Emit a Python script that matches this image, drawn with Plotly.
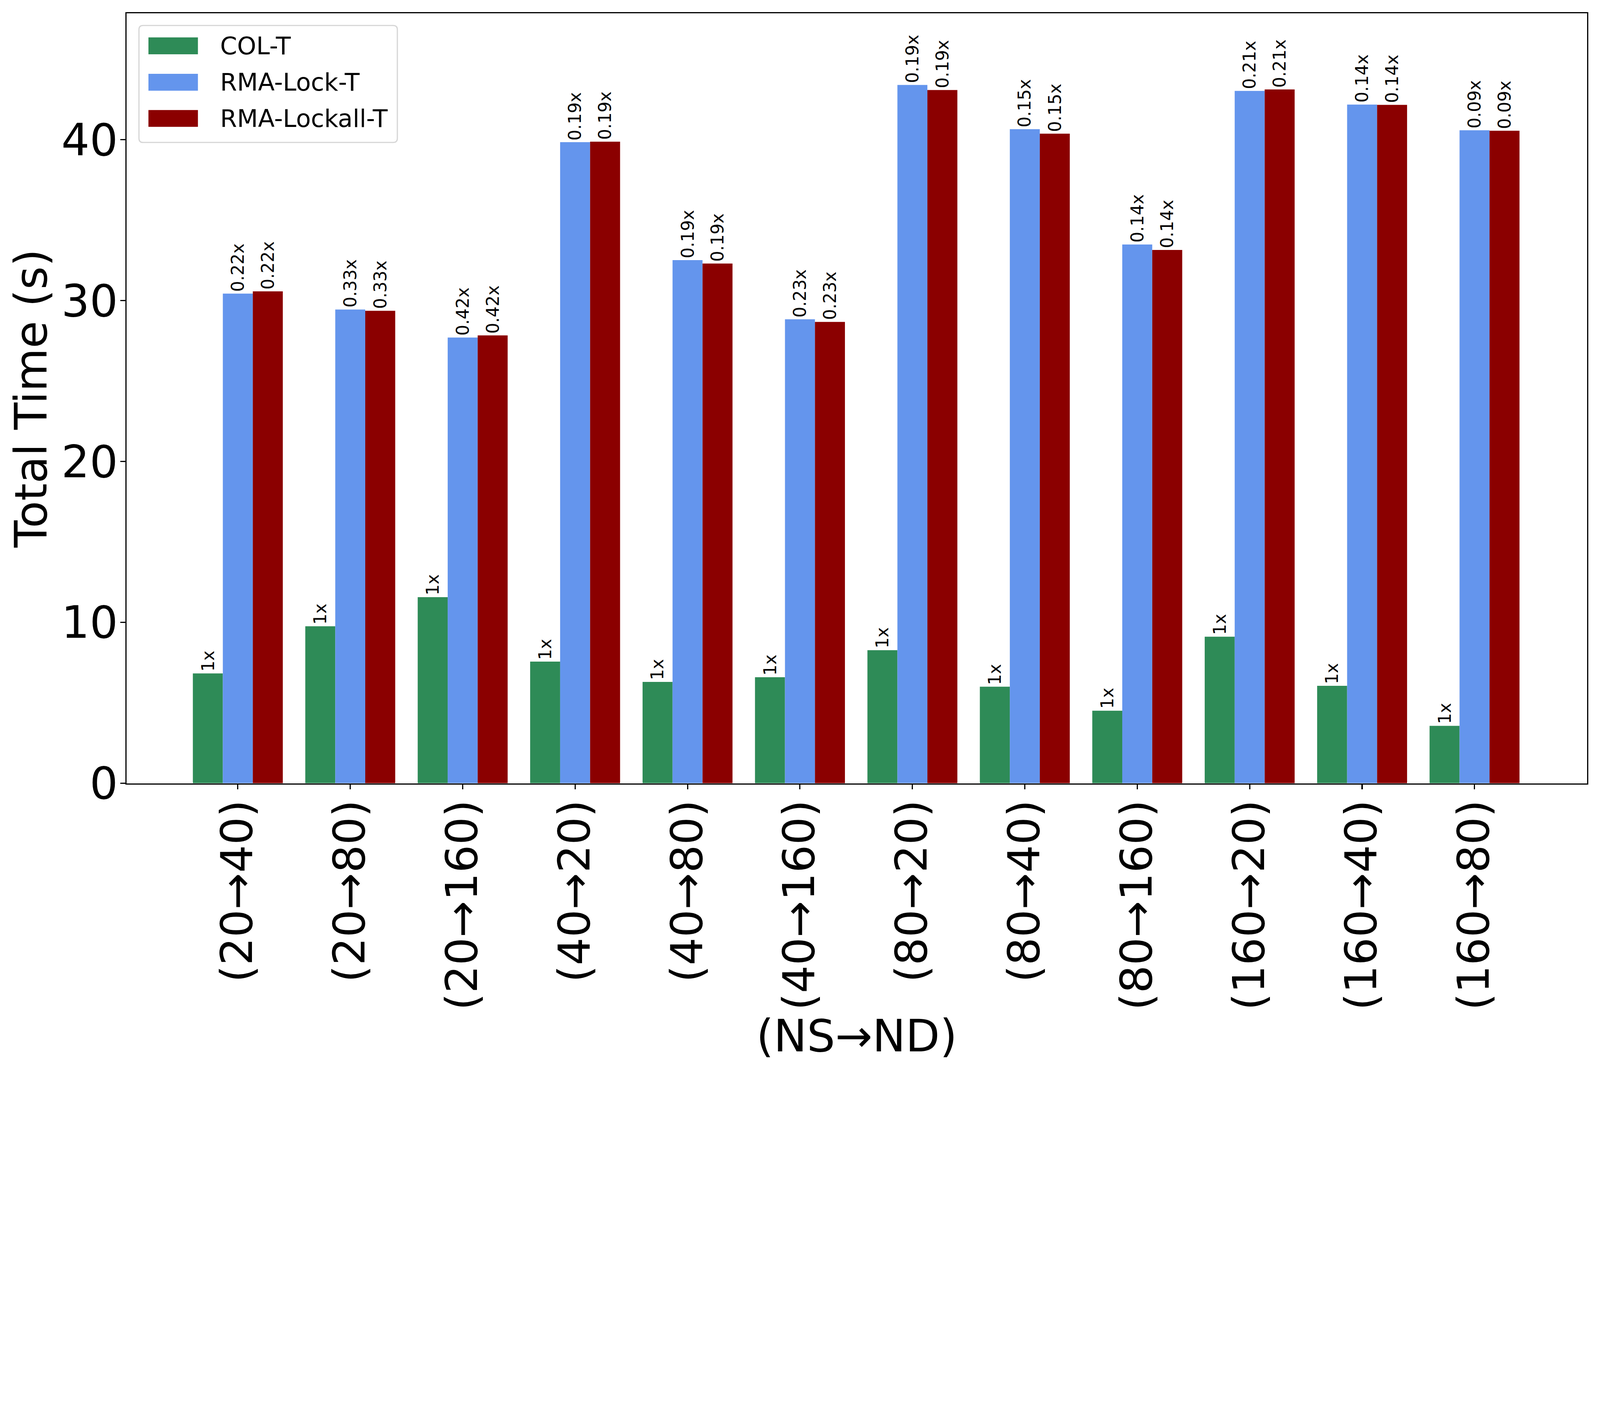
import plotly.graph_objects as go

# ---------------- data ----------------
categories = ["(20→40)", "(20→80)", "(20→160)", "(40→20)", "(40→80)", "(40→160)",
              "(80→20)", "(80→40)", "(80→160)", "(160→20)", "(160→40)", "(160→80)"]
col_t = [6.83, 9.76, 11.57, 7.56, 6.30, 6.59, 8.27, 6.00, 4.51, 9.11, 6.06, 3.57]
rma_lock_t = [30.44, 29.45, 27.71, 39.85, 32.52, 28.84, 43.41, 40.66, 33.49, 43.04, 42.19, 40.59]
rma_lockall_t = [30.58, 29.37, 27.84, 39.88, 32.31, 28.68, 43.09, 40.38, 33.15, 43.13, 42.17, 40.56]
col_labels = ["1x", "1x", "1x", "1x", "1x", "1x", "1x", "1x", "1x", "1x", "1x", "1x"]
lock_labels = ["0.22x", "0.33x", "0.42x", "0.19x", "0.19x", "0.23x",
               "0.19x", "0.15x", "0.14x", "0.21x", "0.14x", "0.09x"]
lockall_labels = ["0.22x", "0.33x", "0.42x", "0.19x", "0.19x", "0.23x",
                  "0.19x", "0.15x", "0.14x", "0.21x", "0.14x", "0.09x"]
y_ticks = [0, 10, 20, 30, 40]
series_names = ["COL-T", "RMA-Lock-T", "RMA-Lockall-T"]
series_colors = ["#2E8B57", "#6495ED", "#8B0000"]

# ---------------- layout constants ----------------
W_PX, H_PX = 5400, 3600
L, R, T, B = 427, 5356, 45, 2644
FONT = "DejaVu Sans"
BW = 0.8 / 3

xs = list(range(len(categories)))
series = [col_t, rma_lock_t, rma_lockall_t]
labels = [col_labels, lock_labels, lockall_labels]

fig = go.Figure()
for k, (vals, name, color) in enumerate(zip(series, series_names, series_colors)):
    fig.add_trace(go.Bar(
        x=xs, y=vals, name=name, width=BW, offset=(k - 1.5) * BW,
        marker=dict(color=color, line=dict(width=0)), showlegend=False,
    ))

annotations = []
for k, (vals, labs) in enumerate(zip(series, labels)):
    for i, (v, lab) in enumerate(zip(vals, labs)):
        annotations.append(dict(
            x=i + (k - 1) * BW, y=v, xref="x", yref="y", text=lab,
            textangle=-90, xanchor="center", yanchor="bottom", yshift=4,
            showarrow=False, font=dict(family=FONT, size=58, color="black"),
        ))


def px(xp):
    return (xp - L) / (R - L)


def py(yp):
    return (B - yp) / (B - T)


# ---------------- custom legend (matplotlib look) ----------------
shapes = []
bx0, bx1, by0, by1 = 469, 1341, 86, 481
rad = 14
rx, ry = rad / (R - L), rad / (B - T)
x0, x1, y0, y1 = px(bx0), px(bx1), py(by1), py(by0)
path = (f"M {x0+rx},{y0} L {x1-rx},{y0} Q {x1},{y0} {x1},{y0+ry} "
        f"L {x1},{y1-ry} Q {x1},{y1} {x1-rx},{y1} L {x0+rx},{y1} "
        f"Q {x0},{y1} {x0},{y1-ry} L {x0},{y0+ry} Q {x0},{y0} {x0+rx},{y0} Z")
shapes.append(dict(type="path", path=path, xref="paper", yref="paper",
                   fillcolor="rgba(255,255,255,0.8)", line=dict(color="#d6d6d6", width=4),
                   layer="above"))
row_centers = [154.7, 277.7, 399.8]
for name, color, yc in zip(series_names, series_colors, row_centers):
    shapes.append(dict(type="rect", xref="paper", yref="paper",
                       x0=px(501), x1=px(668), y0=py(yc + 28.5), y1=py(yc - 28.5),
                       fillcolor=color, line=dict(width=0), layer="above"))
    annotations.append(dict(x=px(741), y=py(yc), xref="paper", yref="paper", text=name,
                            xanchor="left", yanchor="middle", showarrow=False,
                            font=dict(family=FONT, size=82, color="black")))

fig.update_layout(
    width=W_PX, height=H_PX,
    margin=dict(l=L, r=W_PX - R, t=T, b=H_PX - B, pad=0),
    paper_bgcolor="white", plot_bgcolor="white",
    font=dict(family=FONT, color="black"),
    shapes=shapes, annotations=annotations,
    xaxis=dict(
        range=[-0.99, 12.0], tickmode="array", tickvals=xs, ticktext=categories,
        tickangle=-90, tickfont=dict(family=FONT, size=148, color="black"),
        ticks="outside", ticklen=17, tickwidth=4, tickcolor="black",
        showline=True, linecolor="black", linewidth=4, mirror=True,
        showgrid=False, zeroline=False, ticklabelstandoff=-24, automargin=False,
        title=dict(text="(NS→ND)", font=dict(family=FONT, size=150, color="black"), standoff=0),
    ),
    yaxis=dict(
        range=[0, 47.86], tickmode="array", tickvals=y_ticks,
        tickfont=dict(family=FONT, size=150, color="black"),
        ticks="outside", ticklen=17, tickwidth=4, tickcolor="black",
        showline=True, linecolor="black", linewidth=4, mirror=True,
        showgrid=False, zeroline=False, ticklabelstandoff=-22, automargin=False,
        title=dict(text="Total Time (s)", font=dict(family=FONT, size=150, color="black"), standoff=0),
    ),
)

# keep the whole 5400x3600 figure visible even if the window is narrower
fit_script = """
document.documentElement.style.margin = '0';
document.body.style.margin = '0';
var gd = document.getElementById('{plot_id}');
var s = Math.min(window.innerWidth / 5400, 1);
if (s < 1) {
  gd.style.transformOrigin = '0 0';
  gd.style.transform = 'scale(' + s + ')';
}
"""

fig.write_html("out.html", post_script=fit_script, config={"displayModeBar": False})
